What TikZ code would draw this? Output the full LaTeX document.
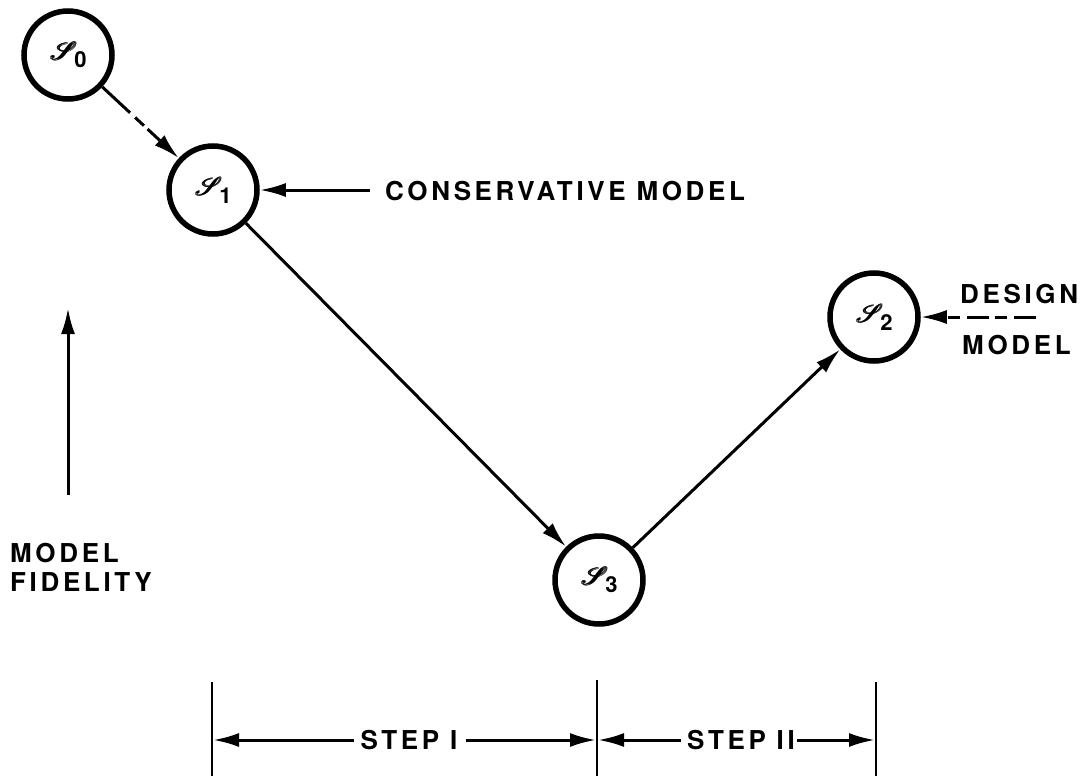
\documentclass[tikz,border=0pt]{standalone}
\usepackage{fontspec}
\usepackage{mathrsfs}
\setmainfont{TeX Gyre Heros}
\usetikzlibrary{arrows.meta}
\newfontfamily\lblfont[LetterSpace=14]{TeX Gyre Heros Bold}
\newfontfamily\digfont{TeX Gyre Heros Bold}
\newcommand{\scrglyph}{{\fontsize{54}{54}\selectfont$\mathscr{S}$}}
\newcommand{\sym}[1]{\rlap{\scrglyph}\rlap{\kern0.8pt\scrglyph}\rlap{\kern1.6pt\raisebox{0.6pt}{\scrglyph}}\kern1.6pt\raisebox{-0.7pt}{\scrglyph}\kern-3pt\raisebox{-8pt}{\fontsize{22}{22}\digfont #1}}
\tikzset{
  state/.style={circle, draw, line width=5.5pt, minimum size=88pt, inner sep=0pt},
  conn/.style={line width=3pt, -{Latex[length=26pt,width=14pt]}},
  lbl/.style={font=\lblfont\fontsize{26}{32}\selectfont, inner sep=0pt, align=left},
  tick/.style={line width=2.8pt}
}
\begin{document}
\begin{tikzpicture}[x=1pt,y=-1pt]
\useasboundingbox[fill=white] (0,0) rectangle (1087,779);
\node[state] (s0) at (68,55) {\sym{0}};
\node[state] (s1) at (213,190) {\sym{1}};
\node[state] (s2) at (874,317) {\sym{2}};
\node[state] (s3) at (599,580) {\sym{3}};
\draw[conn, dash pattern=on 38pt off 7pt on 12pt off 5pt] (s0) -- (s1);
\draw[conn] (s1) -- (s3);
\draw[conn] (s3) -- (s2);
\node[lbl, anchor=west] (cons) at (385,191) {CONSERVATIVE MODEL};
\coordinate (consa) at (370,190);
\draw[conn] (consa) -- (s1);
\node[lbl, anchor=west] (des) at (960,294) {DESIGN};
\node[lbl, anchor=west] (mod) at (962,345) {MODEL};
\coordinate (desa) at (1036,317);
\draw[conn, dash pattern=on 22pt off 7pt on 12pt off 6pt] (desa) -- (s2);
\coordinate (fa) at (68,495);
\coordinate (fb) at (68,308);
\draw[conn] (fa) -- (fb);
\node[lbl, anchor=north west] (fid) at (10,543) {MODEL\\[-3pt]FIDELITY};
\coordinate (t1a) at (212,682); \coordinate (t1b) at (212,776);
\coordinate (t2a) at (597,680); \coordinate (t2b) at (597,776);
\coordinate (t3a) at (876,682); \coordinate (t3b) at (876,776);
\draw[tick] (t1a) -- (t1b);
\draw[tick] (t2a) -- (t2b);
\draw[tick] (t3a) -- (t3b);
\node[lbl] (st1) at (409,740) {STEP I};
\node[lbl] (st2) at (741,740) {STEP II};
\coordinate (h1) at (213,740); \coordinate (h2) at (596,740);
\coordinate (h3) at (598,740); \coordinate (h4) at (875,740);
\draw[conn] (st1.west) ++(-6,0) -- (h1);
\draw[conn] (st1.east) ++(8,0) -- (h2);
\draw[conn] (st2.west) ++(-6,0) -- (h3);
\draw[conn] (st2.east) ++(2,0) -- (h4);
\end{tikzpicture}
\end{document}
